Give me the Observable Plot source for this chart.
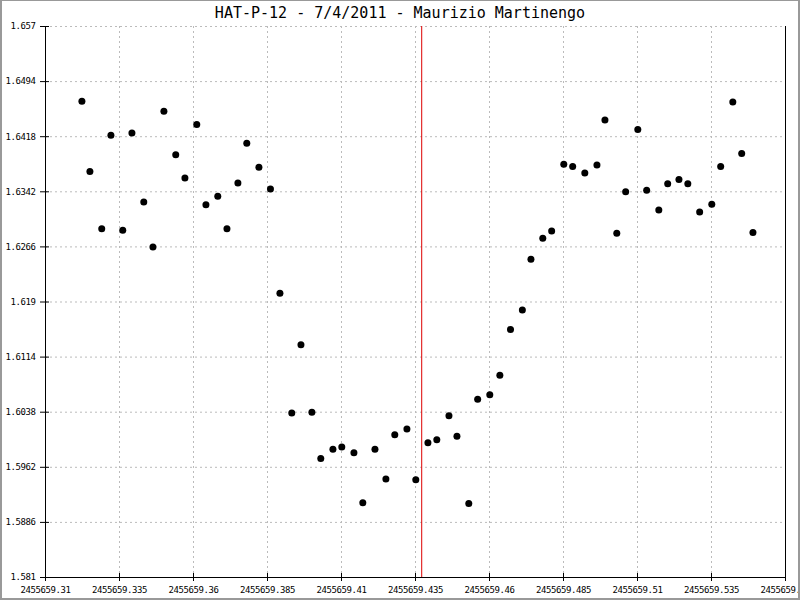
<!DOCTYPE html>
<html>
<head>
<meta charset="utf-8">
<script src="https://cdn.jsdelivr.net/npm/d3@7"></script>
<script src="https://cdn.jsdelivr.net/npm/@observablehq/plot@0.6"></script>
<style>
  html, body { margin: 0; padding: 0; background: #fff; }
  #wrap { position: relative; width: 800px; height: 600px; overflow: hidden; background: #fff; }
  #title { position: absolute; left: 0; top: 4px; width: 800px; text-align: center;
           font-family: "DejaVu Sans Mono", monospace; font-size: 15px; color: #000; }
  #border { position: absolute; left: 0; top: 0; width: 800px; height: 600px; box-sizing: border-box;
            border: 2px solid #999; border-top-width: 1px; pointer-events: none; }
  #plot { position: absolute; left: 0; top: 0; }
</style>
</head>
<body>
<div id="wrap">
  <div id="plot"></div>
  <div id="title"></div>
  <div id="border"></div>
</div>
<script>
const titleText = "HAT-P-12 - 7/4/2011 - Maurizio Martinengo";

const jd = [
  2455659.3223, 2455659.3250, 2455659.3290, 2455659.3321, 2455659.3361, 2455659.3392, 2455659.3432,
  2455659.3463, 2455659.3500, 2455659.3540, 2455659.3571, 2455659.3611, 2455659.3642, 2455659.3682,
  2455659.3713, 2455659.3750, 2455659.3780, 2455659.3821, 2455659.3860, 2455659.3892, 2455659.3932,
  2455659.3963, 2455659.4000, 2455659.4030, 2455659.4071, 2455659.4101, 2455659.4142, 2455659.4172,
  2455659.4213, 2455659.4250, 2455659.4280, 2455659.4321, 2455659.4351, 2455659.4392, 2455659.4422,
  2455659.4463, 2455659.4490, 2455659.4530, 2455659.4560, 2455659.4601, 2455659.4635, 2455659.4671,
  2455659.4711, 2455659.4740, 2455659.4780, 2455659.4810, 2455659.4851, 2455659.4881, 2455659.4922,
  2455659.4963, 2455659.4990, 2455659.5030, 2455659.5060, 2455659.5101, 2455659.5131, 2455659.5172,
  2455659.5202, 2455659.5240, 2455659.5270, 2455659.5310, 2455659.5351, 2455659.5381, 2455659.5422,
  2455659.5452, 2455659.5490
];

const mag = [
  1.6467, 1.6370, 1.6291, 1.6420, 1.6289, 1.6423, 1.6328,
  1.6266, 1.6453, 1.6393, 1.6361, 1.6435, 1.6324, 1.6336,
  1.6291, 1.6354, 1.6409, 1.6376, 1.6346, 1.6202, 1.6037,
  1.6131, 1.6038, 1.5974, 1.5987, 1.5990, 1.5982, 1.5913,
  1.5987, 1.5946, 1.6007, 1.6015, 1.5945, 1.5996, 1.6000,
  1.6033, 1.6005, 1.5912, 1.6056, 1.6062, 1.6089, 1.6152,
  1.6179, 1.6249, 1.6278, 1.6288, 1.6380, 1.6377, 1.6368,
  1.6379, 1.6441, 1.6285, 1.6342, 1.6428, 1.6344, 1.6317,
  1.6353, 1.6359, 1.6353, 1.6314, 1.6325, 1.6377, 1.6466,
  1.6395, 1.6286
];

const midTransit = [2455659.4371];

const xTicks = [2455659.31, 2455659.335, 2455659.36, 2455659.385, 2455659.41, 2455659.435,
                2455659.46, 2455659.485, 2455659.51, 2455659.535, 2455659.56];
const xTickLabels = ["2455659.31", "2455659.335", "2455659.36", "2455659.385", "2455659.41", "2455659.435",
                     "2455659.46", "2455659.485", "2455659.51", "2455659.535", "2455659.56"];
const yTicks = [1.581, 1.5886, 1.5962, 1.6038, 1.6114, 1.619, 1.6266, 1.6342, 1.6418, 1.6494, 1.657];
const yTickLabels = ["1.581", "1.5886", "1.5962", "1.6038", "1.6114", "1.619", "1.6266", "1.6342", "1.6418", "1.6494", "1.657"];

document.getElementById("title").textContent = titleText;

const points = jd.map((x, i) => ({x, y: mag[i]}));
const xDomain = [xTicks[0], xTicks[xTicks.length - 1]];
const yDomain = [yTicks[0], yTicks[yTicks.length - 1]];

const xLab = new Map(xTicks.map((t, i) => [t, xTickLabels[i]]));
const yLab = new Map(yTicks.map((t, i) => [t, yTickLabels[i]]));

const chart = Plot.plot({
  width: 800,
  height: 600,
  marginLeft: 45,
  marginRight: 15,
  marginTop: 26,
  marginBottom: 23,
  style: {fontFamily: "'DejaVu Sans Mono', monospace", fontSize: "9px", letterSpacing: "-0.4px", color: "#000", background: "transparent", overflow: "hidden"},
  x: {domain: xDomain},
  y: {domain: yDomain},
  marks: [
    Plot.gridX(xTicks, {stroke: "#bbb", strokeOpacity: 1, strokeDasharray: "2,3"}),
    Plot.gridY(yTicks, {stroke: "#bbb", strokeOpacity: 1, strokeDasharray: "2,3"}),
    Plot.ruleX(midTransit, {stroke: "#dd0000", strokeWidth: 1}),
    Plot.ruleX([xDomain[0], xDomain[1]], {stroke: "#000"}),
    Plot.ruleY([yDomain[0]], {stroke: "#000"}),
    Plot.axisY(yTicks, {anchor: "left", tickSize: 9, dx: 4, tickPadding: 5, tickFormat: d => yLab.get(d), fontSize: 9, label: null}),
    Plot.axisX(xTicks, {anchor: "bottom", tickSize: 8, dy: -4, tickPadding: 5, tickFormat: d => xLab.get(d), fontSize: 9, label: null}),
    Plot.dot(points, {x: "x", y: "y", r: 3.5, fill: "#000", stroke: null})
  ]
});
document.getElementById("plot").appendChild(chart);
</script>
</body>
</html>
